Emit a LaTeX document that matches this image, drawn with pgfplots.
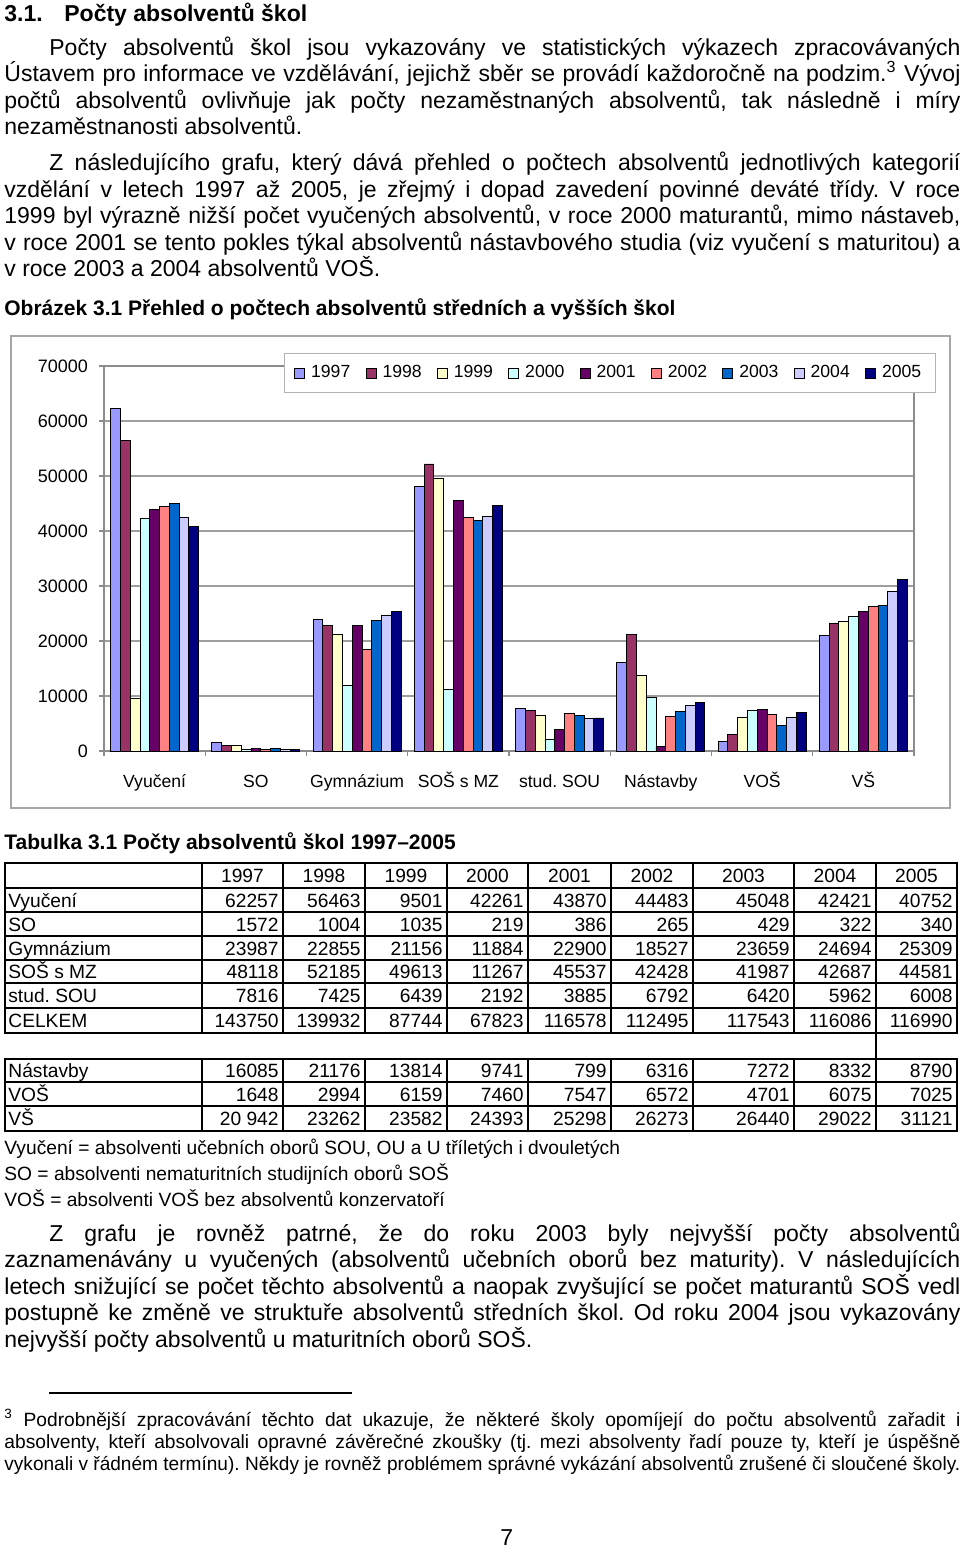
\documentclass[border=0pt]{standalone}
\usepackage{fontspec}
\setmainfont{Liberation Sans}
\usepackage{graphicx}
\usepackage{pgfplots}
\pgfplotsset{compat=1.18}
\frenchspacing
\definecolor{c97}{HTML}{9999FF}
\definecolor{c98}{HTML}{993366}
\definecolor{c99}{HTML}{FFFFCC}
\definecolor{c00}{HTML}{CCFFFF}
\definecolor{c01}{HTML}{660066}
\definecolor{c02}{HTML}{FF8080}
\definecolor{c03}{HTML}{0066CC}
\definecolor{c04}{HTML}{CCCCFF}
\definecolor{c05}{HTML}{000080}
\newsavebox\jbox
\newcommand\jline[2]{\sbox\jbox{#2}\ifdim\wd\jbox>#1\relax\edef\jw{\the\wd\jbox}\pgfmathsetmacro\jr{#1/\jw}\scalebox{\jr}[1]{\usebox\jbox}\else\hbox to #1{#2}\fi}
\newcommand\body{\fontsize{11.5}{13.25}\selectfont}
\newcommand\tsmall{\fontsize{9.6}{11}\selectfont}
\newcommand\capt{\fontsize{10.5}{12}\selectfont\bfseries}
\newcommand\trow[3]{%
  \node[t] at (8,#1) {#2};
  \foreach \v [count=\k from 0] in {#3} {
    \pgfmathsetmacro\xr{{283,365,447,528,611,693,794,876,957}[\k]}
    \node[anchor=base east, inner sep=0pt] at (\xr-4,#1) {\v};
  }}
\tikzset{t/.style={anchor=base west, inner sep=0pt}}
\begin{document}
\begin{tikzpicture}[x=0.5pt,y=-0.5pt]
\useasboundingbox (0,0) rectangle (960,1547);
% heading
\node[t,font=\body\bfseries] at (4,21) {3.1.};
\node[t,font=\body\bfseries] at (64,21) {Počty absolventů škol};
% paragraph 1
\begin{scope}[every node/.style={t,font=\body}]
\node at (49,55) {\jline{455.5pt}{Počty absolventů škol jsou vykazovány ve statistických výkazech zpracovávaných}};
\node at (4,81) {\jline{478pt}{Ústavem pro informace ve vzdělávání, jejichž sběr se provádí každoročně na podzim.\textsuperscript{3} Vývoj}};
\node at (4,108) {\jline{478pt}{počtů absolventů ovlivňuje jak počty nezaměstnaných absolventů, tak následně i míry}};
\node at (4,134) {nezaměstnanosti absolventů.};
\node at (49,170) {\jline{455.5pt}{Z následujícího grafu, který dává přehled o počtech absolventů jednotlivých kategorií}};
\node at (4,197) {\jline{478pt}{vzdělání v letech 1997 až 2005, je zřejmý i dopad zavedení povinné deváté třídy. V roce}};
\node at (4,223) {\jline{478pt}{1999 byl výrazně nižší počet vyučených absolventů, v roce 2000 maturantů, mimo nástaveb,}};
\node at (4,250) {\jline{478pt}{v roce 2001 se tento pokles týkal absolventů nástavbového studia (viz vyučení s maturitou) a}};
\node at (4,276) {v roce 2003 a 2004 absolventů VOŠ.};
\node at (49,1241) {\jline{455.5pt}{Z grafu je rovněž patrné, že do roku 2003 byly nejvyšší počty absolventů}};
\node at (4,1267) {\jline{478pt}{zaznamenávány u vyučených (absolventů učebních oborů bez maturity). V následujících}};
\node at (4,1294) {\jline{478pt}{letech snižující se počet těchto absolventů a naopak zvyšující se počet maturantů SOŠ vedl}};
\node at (4,1320) {\jline{478pt}{postupně ke změně ve struktuře absolventů středních škol. Od roku 2004 jsou vykazovány}};
\node at (4,1347) {nejvyšší počty absolventů u maturitních oborů SOŠ.};
\node at (500,1545) {7};
\end{scope}
\node[t,font=\capt] at (4,315) {Obrázek 3.1 Přehled o počtech absolventů středních a vyšších škol};
\node[t,font=\capt] at (4,849) {Tabulka 3.1 Počty absolventů škol 1997–2005};
% chart frame
\draw[black!35, line width=0.6pt] (11,336) rectangle (950,808);
\coordinate (P) at (104,751);
\begin{scope}[x=1cm,y=1cm]
\begin{axis}[
  at={(P)}, anchor=south west,
  scale only axis, width=405pt, height=192.5pt,
  xmin=-0.5, xmax=7.5, ymin=0, ymax=70000,
  ybar=0pt, bar width=4.89pt,
  xtick={-0.5,0.5,...,7.5}, x tick label as interval,
  xticklabels={Vyučení,SO,Gymnázium,SOŠ s MZ,stud. SOU,Nástavby,VOŠ,VŠ},
  ytick={0,10000,...,70000},
  scaled y ticks=false,
  /pgf/number format/1000 sep={},
  /pgf/number format/assume math mode=true,
  ymajorgrids, grid style={draw=black!38, line width=0.6pt},
  axis line style={draw=black!45, line width=0.6pt},
  tick style={draw=black!45, line width=0.6pt},
  tick align=outside, tick pos=left, major tick length=2.5pt,
  yticklabel style={font=\fontsize{9}{10}\selectfont, xshift=-2pt},
  xticklabel style={font=\fontsize{8.8}{10}\selectfont, anchor=base, yshift=-15.5pt},
  legend columns=9,
  legend style={at={(0.2222,1.0338)}, anchor=north west, draw=black!30,
    font=\fontsize{8.8}{10}\selectfont, inner xsep=5pt, inner ysep=4pt,
    /tikz/every odd column/.append style={column sep=1pt},
    /tikz/every even column/.append style={column sep=5.7pt}},
  legend image code/.code={\draw[#1,draw=black,line width=0.4pt] (0pt,-2.5pt) rectangle (5pt,2.5pt);},
  every axis plot/.append style={draw=black, line width=0.45pt},
]
\addplot[fill=c97] coordinates {(0,62257) (1,1572) (2,23987) (3,48118) (4,7816) (5,16085) (6,1648) (7,20942)};
\addlegendentry{1997}
\addplot[fill=c98] coordinates {(0,56463) (1,1004) (2,22855) (3,52185) (4,7425) (5,21176) (6,2994) (7,23262)};
\addlegendentry{1998}
\addplot[fill=c99] coordinates {(0,9501) (1,1035) (2,21156) (3,49613) (4,6439) (5,13814) (6,6159) (7,23582)};
\addlegendentry{1999}
\addplot[fill=c00] coordinates {(0,42261) (1,219) (2,11884) (3,11267) (4,2192) (5,9741) (6,7460) (7,24393)};
\addlegendentry{2000}
\addplot[fill=c01] coordinates {(0,43870) (1,386) (2,22900) (3,45537) (4,3885) (5,799) (6,7547) (7,25298)};
\addlegendentry{2001}
\addplot[fill=c02] coordinates {(0,44483) (1,265) (2,18527) (3,42428) (4,6792) (5,6316) (6,6572) (7,26273)};
\addlegendentry{2002}
\addplot[fill=c03] coordinates {(0,45048) (1,429) (2,23659) (3,41987) (4,6420) (5,7272) (6,4701) (7,26440)};
\addlegendentry{2003}
\addplot[fill=c04] coordinates {(0,42421) (1,322) (2,24694) (3,42687) (4,5962) (5,8332) (6,6075) (7,29022)};
\addlegendentry{2004}
\addplot[fill=c05] coordinates {(0,40752) (1,340) (2,25309) (3,44581) (4,6008) (5,8790) (6,7025) (7,31121)};
\addlegendentry{2005}
\end{axis}
\end{scope}
% table
\begin{scope}[every node/.style={font=\tsmall}]
\foreach \y in {912,936,960,983,1082,1106} \draw[line width=0.7pt] (5,\y) -- (957,\y);
\foreach \x in {283,365,447,528,611,693,794,876} {\draw[line width=0.7pt] (\x,863) -- (\x,1033); \draw[line width=0.7pt] (\x,1059) -- (\x,1131);}
\draw[line width=0.7pt] (876,1033) -- (876,1059);
\draw[line width=1.3pt] (5,863) rectangle (957,1033);
\draw[line width=1.3pt] (5,1059) rectangle (957,1131);
\draw[line width=1.3pt] (5,888) -- (957,888);
\draw[line width=1.3pt] (5,1008) -- (957,1008);
\draw[line width=1.3pt] (202,863) -- (202,1033);
\draw[line width=1.3pt] (202,1059) -- (202,1131);
\foreach \yr [count=\k from 0] in {1997,1998,1999,2000,2001,2002,2003,2004,2005} {
  \pgfmathsetmacro\xa{{202,283,365,447,528,611,693,794,876}[\k]}
  \pgfmathsetmacro\xb{{283,365,447,528,611,693,794,876,957}[\k]}
  \node[anchor=base, inner sep=0pt] at ({(\xa+\xb)/2},882) {\yr};
}
\trow{907}{Vyučení}{62257,56463,9501,42261,43870,44483,45048,42421,40752}
\trow{931}{SO}{1572,1004,1035,219,386,265,429,322,340}
\trow{955}{Gymnázium}{23987,22855,21156,11884,22900,18527,23659,24694,25309}
\trow{978}{SOŠ s MZ}{48118,52185,49613,11267,45537,42428,41987,42687,44581}
\trow{1002}{stud. SOU}{7816,7425,6439,2192,3885,6792,6420,5962,6008}
\trow{1027}{CELKEM}{143750,139932,87744,67823,116578,112495,117543,116086,116990}
\trow{1077}{Nástavby}{16085,21176,13814,9741,799,6316,7272,8332,8790}
\trow{1101}{VOŠ}{1648,2994,6159,7460,7547,6572,4701,6075,7025}
\trow{1125}{VŠ}{20 942,23262,23582,24393,25298,26273,26440,29022,31121}
\node[t] at (4,1154) {Vyučení = absolventi učebních oborů SOU, OU a U tříletých i dvouletých};
\node[t] at (4,1180) {SO = absolventi nematuritních studijních oborů SOŠ};
\node[t] at (4,1206) {VOŠ = absolventi VOŠ bez absolventů konzervatoří};
\draw[line width=0.6pt] (49,1393) -- (352,1393);
\node[t] at (4,1426) {\jline{478pt}{\textsuperscript{3} Podrobnější zpracovávání těchto dat ukazuje, že některé školy opomíjejí do počtu absolventů zařadit i}};
\node[t] at (4,1448) {\jline{478pt}{absolventy, kteří absolvovali opravné závěrečné zkoušky (tj. mezi absolventy řadí pouze ty, kteří je úspěšně}};
\node[t] at (4,1470) {\jline{478pt}{vykonali v řádném termínu). Někdy je rovněž problémem správné vykázání absolventů zrušené či sloučené školy.}};
\end{scope}
\end{tikzpicture}
\end{document}
